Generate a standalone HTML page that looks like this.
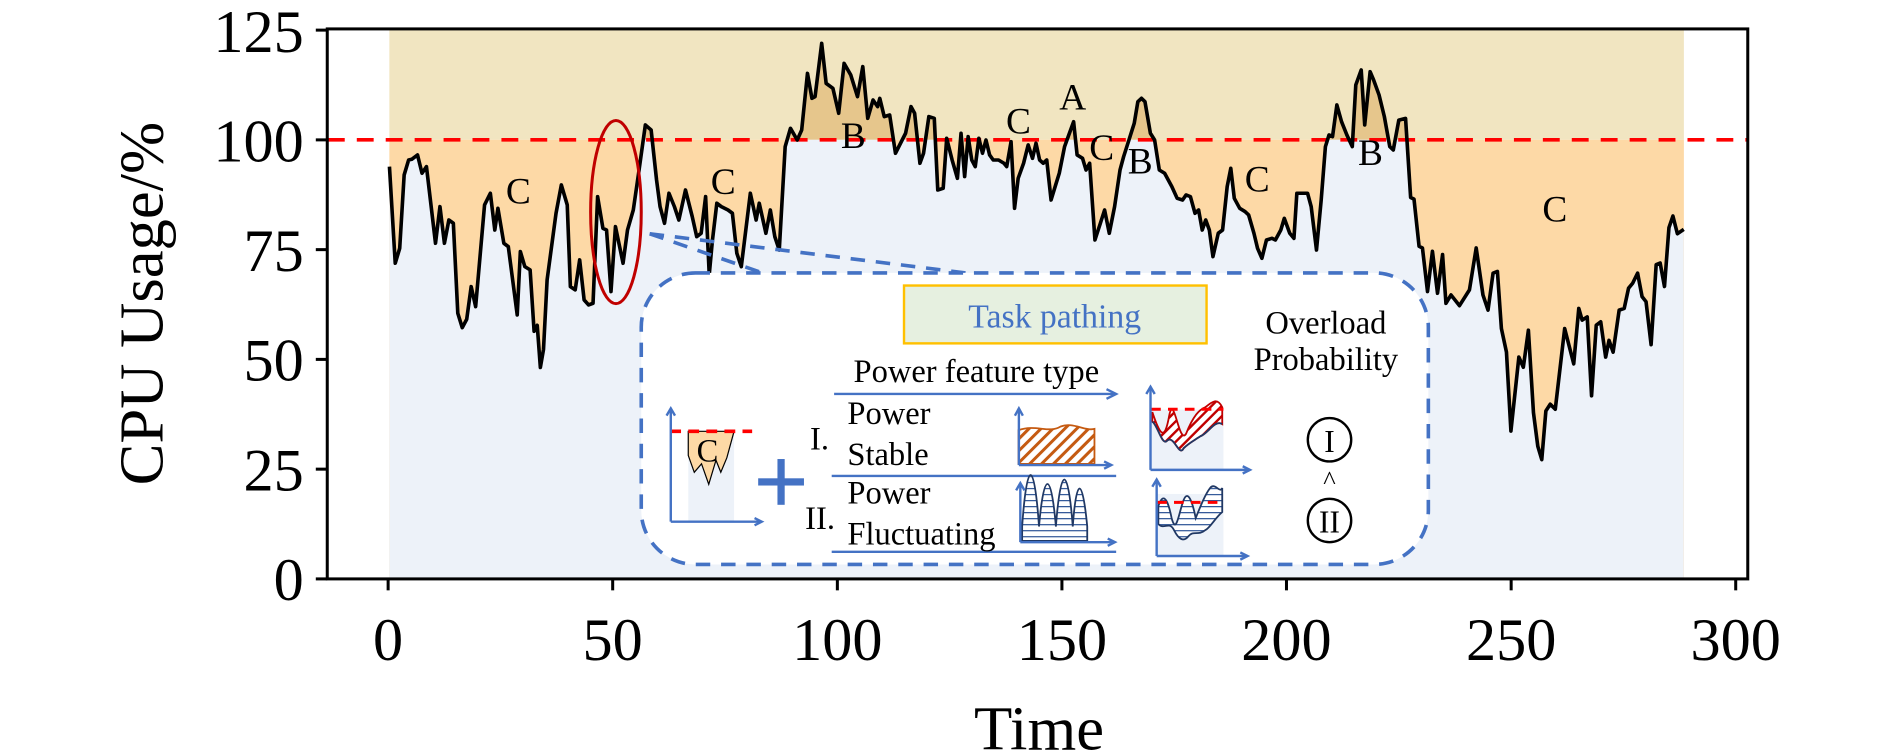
<!DOCTYPE html>
<html><head><meta charset="utf-8"><style>
html,body{margin:0;padding:0;background:#fff;}
svg{display:block;}
text{font-family:"Liberation Serif",serif;}
</style></head><body>
<svg width="1890" height="753" viewBox="0 0 1568 625" preserveAspectRatio="none" xmlns="http://www.w3.org/2000/svg">
<defs>
<clipPath id="above"><rect x="0" y="0" width="1568" height="116"/></clipPath>
<clipPath id="below"><rect x="0" y="116" width="1568" height="400"/></clipPath>
<pattern id="hatchO" width="7" height="7" patternUnits="userSpaceOnUse" patternTransform="rotate(45)"><rect width="7" height="7" fill="#fff"/><rect width="2.5" height="7" fill="#c55a11"/></pattern>
<pattern id="hatchR" width="6" height="6" patternUnits="userSpaceOnUse" patternTransform="rotate(45)"><rect width="6" height="6" fill="#fff"/><rect width="2" height="6" fill="#c00000"/></pattern>
<pattern id="hatchB" width="5" height="5" patternUnits="userSpaceOnUse"><rect width="5" height="5" fill="#fff"/><rect width="5" height="1" fill="#2f5597"/></pattern>
</defs>
<rect x="323" y="24" width="1074" height="92" fill="#f1e5c1"/>
<rect x="323" y="116" width="1074" height="364.5" fill="#fdd9a6"/>
<g clip-path="url(#above)"><path fill="#e6c68c" d="M323,480.5 L323.1,138.3 327.9,218.5 331.6,206.1 335.3,145.2 339.0,132.8 341.6,132.2 346.4,128.6 350.1,143.8 353.8,138.3 361.3,201.9 365.0,171.5 368.7,201.9 372.4,182.6 376.1,185.3 379.8,260.0 383.5,272 387.2,265 390.9,237.9 394.6,254.5 402.0,170.1 406.8,160.4 410.5,190.9 413.1,172.9 418.0,201.9 421.7,204.7 429.1,261.4 431.7,208.8 435.4,221.3 439.8,224.0 443.1,275 445.7,270 448.3,305 450.9,290 453.9,232.3 461.3,177.0 465.7,153.5 470.6,170.1 473.2,237.9 477.2,240.6 480.9,215.7 484.6,248.9 488.3,253.1 492.0,251.7 495.8,163.2 500.2,189.5 503.2,190.9 506.9,242.0 510.6,188.1 516.9,218.5 520.6,190.9 525.4,174.3 529.8,143.8 535.4,103.7 540.2,107.9 544.7,149.4 547.6,171.5 551.3,185.3 555.0,160.4 559.5,171.5 563.2,182.6 568.7,157.7 574.3,179.8 578.0,196.4 581.7,193.6 585.4,163.2 588.4,228 591.0,200 594.7,168.7 598.4,171.5 604.0,174.3 607.6,177.0 611.3,210.2 615.0,221.3 622.5,160.4 627.3,182.6 629.9,168.7 635.4,193.6 639.1,174.3 642.8,196.4 646.5,207.5 651.4,121.7 655.8,106.5 661.4,116.2 665.1,107.9 669.9,60.9 673.6,81.6 676.2,80.2 681.7,36.0 685.4,69.2 691.0,73.3 695.8,94.0 700.3,52.6 705.8,62.2 711.4,80.2 715.8,55.3 719.9,98.2 724.3,83.0 728.1,88.5 729.9,81.6 733.6,96.8 738.1,95.4 742.9,127.2 751.3,110.6 755.8,88.5 758.8,94.0 763.2,135.5 766.2,127.2 770.6,96.8 775.1,98.2 778.0,157.7 782.5,156.3 785.4,114.8 789.9,132.8 794.3,148.0 797.3,110.6 800.3,146.6 803.2,113.4 806.2,132.8 809.1,138.3 812.1,114.8 815.1,127.2 818.0,116.2 821.0,128.6 824.0,132.8 828.4,132.8 832.9,135.5 835.2,138.3 838.8,117.6 841.7,172.9 844.7,148.0 849.2,135.5 853.0,120.3 856.6,131.4 859.5,118.9 862.5,132.8 865.5,135.5 868.4,132.8 872.0,166.0 875.8,153.5 878.8,143.8 883.2,121.7 890.7,101.0 893.6,128.6 898.1,131.4 901.0,141.1 904.0,135.5 908.4,199.2 912.9,185.3 916.4,174.3 920.3,193.6 924.7,171.5 929.2,141.1 932.2,130.0 936.6,116.2 941.0,102.3 944.0,84.4 947.0,81.6 949.9,84.4 954.4,110.6 957.9,116.2 961.8,141.1 966.2,143.8 972.2,154.9 976.6,164.6 981.1,166.0 984.0,161.8 987.6,163.2 991.4,177.0 994.4,174.3 997.4,190.9 1000.3,182.6 1003.3,190.9 1006.3,213.0 1010.7,193.6 1014.3,190.9 1018.1,154.9 1021.1,139.7 1024.0,164.6 1028.5,172.9 1032.9,175.6 1035.9,178.4 1040.3,193.6 1043.3,206.1 1046.9,214.4 1050.7,199.2 1055.2,197.8 1058.1,199.2 1062.6,190.9 1065.5,181.2 1070.0,193.6 1073.5,197.8 1075.9,160.4 1081.8,160.4 1084.8,160.4 1087.8,171.5 1092.2,207.5 1096.1,166.0 1099.6,121.7 1102.6,112.0 1105.5,113.4 1109.1,87.1 1113.0,101.0 1117.4,112.0 1121.9,121.7 1124.8,70.5 1129.3,58.1 1132.2,103.7 1136.7,59.5 1139.6,66.4 1144.1,78.8 1148.5,96.8 1153.0,121.7 1155.9,124.5 1160.5,99.7 1166.1,98.3 1170.3,163.9 1173.1,165.3 1177.3,204.4 1180.1,205.8 1184.3,242 1188.4,208.6 1192.6,243.4 1196.8,211.3 1199.6,251.8 1203.8,244.8 1210.8,253.7 1219.1,240.6 1224.7,205.8 1230.3,244.8 1234.5,257.4 1238.7,226.7 1242.3,225.3 1245.6,272.7 1249.8,292.3 1253.5,357.8 1260.1,296.4 1263.8,304.8 1268,274.1 1272.2,342.5 1275.8,370.4 1279.1,381.5 1282.5,341.1 1286.1,335.5 1290.3,339.7 1298.1,272.7 1305.6,302 1309.8,256 1312.6,265.7 1316.8,263 1320.4,328.5 1324.3,269.9 1328,267.1 1332.1,296.4 1334.9,282.5 1338.3,292.3 1343.3,257.4 1347.5,256 1351.1,239.2 1354.5,235.1 1358.6,226.7 1362.3,246.2 1365.6,250.4 1369.8,286.1 1374,219.7 1377.3,218.3 1380.9,237.8 1384.6,189 1387.9,179.3 1391.6,194 1396.9,190.4 L1396.9,480.5 Z"/></g>
<g clip-path="url(#below)"><path fill="#edf2f9" d="M323,480.5 L323.1,138.3 327.9,218.5 331.6,206.1 335.3,145.2 339.0,132.8 341.6,132.2 346.4,128.6 350.1,143.8 353.8,138.3 361.3,201.9 365.0,171.5 368.7,201.9 372.4,182.6 376.1,185.3 379.8,260.0 383.5,272 387.2,265 390.9,237.9 394.6,254.5 402.0,170.1 406.8,160.4 410.5,190.9 413.1,172.9 418.0,201.9 421.7,204.7 429.1,261.4 431.7,208.8 435.4,221.3 439.8,224.0 443.1,275 445.7,270 448.3,305 450.9,290 453.9,232.3 461.3,177.0 465.7,153.5 470.6,170.1 473.2,237.9 477.2,240.6 480.9,215.7 484.6,248.9 488.3,253.1 492.0,251.7 495.8,163.2 500.2,189.5 503.2,190.9 506.9,242.0 510.6,188.1 516.9,218.5 520.6,190.9 525.4,174.3 529.8,143.8 535.4,103.7 540.2,107.9 544.7,149.4 547.6,171.5 551.3,185.3 555.0,160.4 559.5,171.5 563.2,182.6 568.7,157.7 574.3,179.8 578.0,196.4 581.7,193.6 585.4,163.2 588.4,228 591.0,200 594.7,168.7 598.4,171.5 604.0,174.3 607.6,177.0 611.3,210.2 615.0,221.3 622.5,160.4 627.3,182.6 629.9,168.7 635.4,193.6 639.1,174.3 642.8,196.4 646.5,207.5 651.4,121.7 655.8,106.5 661.4,116.2 665.1,107.9 669.9,60.9 673.6,81.6 676.2,80.2 681.7,36.0 685.4,69.2 691.0,73.3 695.8,94.0 700.3,52.6 705.8,62.2 711.4,80.2 715.8,55.3 719.9,98.2 724.3,83.0 728.1,88.5 729.9,81.6 733.6,96.8 738.1,95.4 742.9,127.2 751.3,110.6 755.8,88.5 758.8,94.0 763.2,135.5 766.2,127.2 770.6,96.8 775.1,98.2 778.0,157.7 782.5,156.3 785.4,114.8 789.9,132.8 794.3,148.0 797.3,110.6 800.3,146.6 803.2,113.4 806.2,132.8 809.1,138.3 812.1,114.8 815.1,127.2 818.0,116.2 821.0,128.6 824.0,132.8 828.4,132.8 832.9,135.5 835.2,138.3 838.8,117.6 841.7,172.9 844.7,148.0 849.2,135.5 853.0,120.3 856.6,131.4 859.5,118.9 862.5,132.8 865.5,135.5 868.4,132.8 872.0,166.0 875.8,153.5 878.8,143.8 883.2,121.7 890.7,101.0 893.6,128.6 898.1,131.4 901.0,141.1 904.0,135.5 908.4,199.2 912.9,185.3 916.4,174.3 920.3,193.6 924.7,171.5 929.2,141.1 932.2,130.0 936.6,116.2 941.0,102.3 944.0,84.4 947.0,81.6 949.9,84.4 954.4,110.6 957.9,116.2 961.8,141.1 966.2,143.8 972.2,154.9 976.6,164.6 981.1,166.0 984.0,161.8 987.6,163.2 991.4,177.0 994.4,174.3 997.4,190.9 1000.3,182.6 1003.3,190.9 1006.3,213.0 1010.7,193.6 1014.3,190.9 1018.1,154.9 1021.1,139.7 1024.0,164.6 1028.5,172.9 1032.9,175.6 1035.9,178.4 1040.3,193.6 1043.3,206.1 1046.9,214.4 1050.7,199.2 1055.2,197.8 1058.1,199.2 1062.6,190.9 1065.5,181.2 1070.0,193.6 1073.5,197.8 1075.9,160.4 1081.8,160.4 1084.8,160.4 1087.8,171.5 1092.2,207.5 1096.1,166.0 1099.6,121.7 1102.6,112.0 1105.5,113.4 1109.1,87.1 1113.0,101.0 1117.4,112.0 1121.9,121.7 1124.8,70.5 1129.3,58.1 1132.2,103.7 1136.7,59.5 1139.6,66.4 1144.1,78.8 1148.5,96.8 1153.0,121.7 1155.9,124.5 1160.5,99.7 1166.1,98.3 1170.3,163.9 1173.1,165.3 1177.3,204.4 1180.1,205.8 1184.3,242 1188.4,208.6 1192.6,243.4 1196.8,211.3 1199.6,251.8 1203.8,244.8 1210.8,253.7 1219.1,240.6 1224.7,205.8 1230.3,244.8 1234.5,257.4 1238.7,226.7 1242.3,225.3 1245.6,272.7 1249.8,292.3 1253.5,357.8 1260.1,296.4 1263.8,304.8 1268,274.1 1272.2,342.5 1275.8,370.4 1279.1,381.5 1282.5,341.1 1286.1,335.5 1290.3,339.7 1298.1,272.7 1305.6,302 1309.8,256 1312.6,265.7 1316.8,263 1320.4,328.5 1324.3,269.9 1328,267.1 1332.1,296.4 1334.9,282.5 1338.3,292.3 1343.3,257.4 1347.5,256 1351.1,239.2 1354.5,235.1 1358.6,226.7 1362.3,246.2 1365.6,250.4 1369.8,286.1 1374,219.7 1377.3,218.3 1380.9,237.8 1384.6,189 1387.9,179.3 1391.6,194 1396.9,190.4 L1396.9,480.5 Z"/></g>
<line x1="272" y1="116" x2="1450" y2="116" stroke="#ff0000" stroke-width="3" stroke-dasharray="14,10"/>
<polyline fill="none" stroke="#000" stroke-width="3" stroke-linejoin="round" points="323.1,138.3 327.9,218.5 331.6,206.1 335.3,145.2 339.0,132.8 341.6,132.2 346.4,128.6 350.1,143.8 353.8,138.3 361.3,201.9 365.0,171.5 368.7,201.9 372.4,182.6 376.1,185.3 379.8,260.0 383.5,272 387.2,265 390.9,237.9 394.6,254.5 402.0,170.1 406.8,160.4 410.5,190.9 413.1,172.9 418.0,201.9 421.7,204.7 429.1,261.4 431.7,208.8 435.4,221.3 439.8,224.0 443.1,275 445.7,270 448.3,305 450.9,290 453.9,232.3 461.3,177.0 465.7,153.5 470.6,170.1 473.2,237.9 477.2,240.6 480.9,215.7 484.6,248.9 488.3,253.1 492.0,251.7 495.8,163.2 500.2,189.5 503.2,190.9 506.9,242.0 510.6,188.1 516.9,218.5 520.6,190.9 525.4,174.3 529.8,143.8 535.4,103.7 540.2,107.9 544.7,149.4 547.6,171.5 551.3,185.3 555.0,160.4 559.5,171.5 563.2,182.6 568.7,157.7 574.3,179.8 578.0,196.4 581.7,193.6 585.4,163.2 588.4,228 591.0,200 594.7,168.7 598.4,171.5 604.0,174.3 607.6,177.0 611.3,210.2 615.0,221.3 622.5,160.4 627.3,182.6 629.9,168.7 635.4,193.6 639.1,174.3 642.8,196.4 646.5,207.5 651.4,121.7 655.8,106.5 661.4,116.2 665.1,107.9 669.9,60.9 673.6,81.6 676.2,80.2 681.7,36.0 685.4,69.2 691.0,73.3 695.8,94.0 700.3,52.6 705.8,62.2 711.4,80.2 715.8,55.3 719.9,98.2 724.3,83.0 728.1,88.5 729.9,81.6 733.6,96.8 738.1,95.4 742.9,127.2 751.3,110.6 755.8,88.5 758.8,94.0 763.2,135.5 766.2,127.2 770.6,96.8 775.1,98.2 778.0,157.7 782.5,156.3 785.4,114.8 789.9,132.8 794.3,148.0 797.3,110.6 800.3,146.6 803.2,113.4 806.2,132.8 809.1,138.3 812.1,114.8 815.1,127.2 818.0,116.2 821.0,128.6 824.0,132.8 828.4,132.8 832.9,135.5 835.2,138.3 838.8,117.6 841.7,172.9 844.7,148.0 849.2,135.5 853.0,120.3 856.6,131.4 859.5,118.9 862.5,132.8 865.5,135.5 868.4,132.8 872.0,166.0 875.8,153.5 878.8,143.8 883.2,121.7 890.7,101.0 893.6,128.6 898.1,131.4 901.0,141.1 904.0,135.5 908.4,199.2 912.9,185.3 916.4,174.3 920.3,193.6 924.7,171.5 929.2,141.1 932.2,130.0 936.6,116.2 941.0,102.3 944.0,84.4 947.0,81.6 949.9,84.4 954.4,110.6 957.9,116.2 961.8,141.1 966.2,143.8 972.2,154.9 976.6,164.6 981.1,166.0 984.0,161.8 987.6,163.2 991.4,177.0 994.4,174.3 997.4,190.9 1000.3,182.6 1003.3,190.9 1006.3,213.0 1010.7,193.6 1014.3,190.9 1018.1,154.9 1021.1,139.7 1024.0,164.6 1028.5,172.9 1032.9,175.6 1035.9,178.4 1040.3,193.6 1043.3,206.1 1046.9,214.4 1050.7,199.2 1055.2,197.8 1058.1,199.2 1062.6,190.9 1065.5,181.2 1070.0,193.6 1073.5,197.8 1075.9,160.4 1081.8,160.4 1084.8,160.4 1087.8,171.5 1092.2,207.5 1096.1,166.0 1099.6,121.7 1102.6,112.0 1105.5,113.4 1109.1,87.1 1113.0,101.0 1117.4,112.0 1121.9,121.7 1124.8,70.5 1129.3,58.1 1132.2,103.7 1136.7,59.5 1139.6,66.4 1144.1,78.8 1148.5,96.8 1153.0,121.7 1155.9,124.5 1160.5,99.7 1166.1,98.3 1170.3,163.9 1173.1,165.3 1177.3,204.4 1180.1,205.8 1184.3,242 1188.4,208.6 1192.6,243.4 1196.8,211.3 1199.6,251.8 1203.8,244.8 1210.8,253.7 1219.1,240.6 1224.7,205.8 1230.3,244.8 1234.5,257.4 1238.7,226.7 1242.3,225.3 1245.6,272.7 1249.8,292.3 1253.5,357.8 1260.1,296.4 1263.8,304.8 1268,274.1 1272.2,342.5 1275.8,370.4 1279.1,381.5 1282.5,341.1 1286.1,335.5 1290.3,339.7 1298.1,272.7 1305.6,302 1309.8,256 1312.6,265.7 1316.8,263 1320.4,328.5 1324.3,269.9 1328,267.1 1332.1,296.4 1334.9,282.5 1338.3,292.3 1343.3,257.4 1347.5,256 1351.1,239.2 1354.5,235.1 1358.6,226.7 1362.3,246.2 1365.6,250.4 1369.8,286.1 1374,219.7 1377.3,218.3 1380.9,237.8 1384.6,189 1387.9,179.3 1391.6,194 1396.9,190.4"/>
<g font-size="31" text-anchor="middle" fill="#000">
<text x="430" y="169">C</text><text x="600" y="161">C</text><text x="708" y="123">B</text>
<text x="845" y="111">C</text><text x="890" y="91">A</text><text x="914" y="133">C</text>
<text x="946" y="144">B</text><text x="1043" y="159">C</text><text x="1137" y="137">B</text>
<text x="1290" y="184">C</text>
</g>
<ellipse cx="511" cy="176" rx="21" ry="76" fill="none" stroke="#c00000" stroke-width="2.5"/>
<g stroke="#4472c4" stroke-width="3" stroke-dasharray="12,9" fill="none">
<line x1="539" y1="194" x2="634" y2="227"/>
<line x1="539" y1="194" x2="805" y2="227"/>
</g>
<rect x="532" y="226.5" width="653" height="242" rx="45" ry="45" fill="#fff" stroke="#4472c4" stroke-width="3" stroke-dasharray="12,9"/>
<rect x="750" y="237" width="251" height="48" fill="#e6f0e0" stroke="#ffc000" stroke-width="2"/>
<text x="875" y="272" font-size="28" fill="#4472c4" text-anchor="middle">Task pathing</text>
<g font-size="27" text-anchor="middle" fill="#000">
<text x="1100" y="277">Overload</text><text x="1100" y="307">Probability</text>
</g>
<text x="810" y="317" font-size="27" text-anchor="middle">Power feature type</text>
<g stroke="#4472c4" stroke-width="2" fill="none">
<line x1="692" y1="327" x2="926" y2="327"/><polyline points="918,323 926,327 918,331"/>
<line x1="690" y1="395" x2="926" y2="395"/>
<line x1="690" y1="458" x2="926" y2="458"/>
</g>
<g font-size="27" fill="#000">
<text x="672" y="373">I.</text><text x="703" y="352">Power</text><text x="703" y="386">Stable</text>
<text x="668" y="439">II.</text><text x="703" y="418">Power</text><text x="703" y="452">Fluctuating</text>
</g>
<rect x="571" y="358" width="38" height="75" fill="#edf2f9"/>
<path d="M571,358 L609,358 L603,380 598,392 594,382 588,402 582,385 576,392 571,378 Z" fill="#fdd9a6" stroke="#000" stroke-width="1"/>
<line x1="556" y1="358" x2="624" y2="358" stroke="#ff0000" stroke-width="3" stroke-dasharray="9,6"/>
<text x="587" y="383" font-size="27" text-anchor="middle">C</text>
<g stroke="#4472c4" stroke-width="2" fill="none">
<line x1="556.5" y1="339" x2="556.5" y2="433"/><line x1="556.5" y1="433" x2="632" y2="433"/>
<polyline points="553,345 556.5,339 560,345"/><polyline points="626,430 632,433 626,436"/>
</g>
<rect x="629" y="397" width="38" height="6" fill="#4472c4"/>
<rect x="645" y="381" width="6" height="38" fill="#4472c4"/>
<path d="M845,357 C860,352 870,360 880,354 C890,350 900,358 908,356 L908,385 L845,385 Z" fill="url(#hatchO)" stroke="#c55a11" stroke-width="1.5"/>
<path d="M848,437 C852,380 858,380 862,437 C866,390 872,390 876,437 C880,385 886,385 890,437 C893,395 898,395 902,437 L902,449 L848,449 Z" fill="url(#hatchB)" stroke="#203864" stroke-width="1.5"/>
<g stroke="#4472c4" stroke-width="2" fill="none">
<line x1="845.3" y1="339" x2="845.3" y2="386"/><line x1="845.3" y1="386" x2="922" y2="386"/>
<polyline points="842,345 845.3,339 848.6,345"/><polyline points="916,383 922,386 916,389"/>
<line x1="846.5" y1="401" x2="846.5" y2="450"/><line x1="846.5" y1="450" x2="925" y2="450"/>
<polyline points="843,407 846.5,401 850,407"/><polyline points="919,447 925,450 919,453"/>
</g>
<rect x="955" y="340" width="60" height="50" fill="#edf2f9"/>
<path d="M956,342 C962,360 966,368 970,345 C974,325 978,370 984,360 C990,345 995,340 1000,338 C1006,333 1010,330 1014,338 L1014,352 C1008,348 1002,360 996,362 C990,366 986,368 982,372 C978,380 974,360 968,366 C964,370 960,352 956,350 Z" fill="url(#hatchR)" stroke="#c00000" stroke-width="1.5"/>
<path d="M956,350 C960,352 964,370 968,366 C974,360 978,380 982,372 C986,368 990,366 996,362 C1002,360 1008,348 1014,352" fill="none" stroke="#203864" stroke-width="1.5"/>
<line x1="955" y1="339.7" x2="1015" y2="339.7" stroke="#ff0000" stroke-width="2.5" stroke-dasharray="8,6"/>
<rect x="960" y="410" width="55" height="52" fill="#edf2f9"/>
<path d="M961,420 C966,405 970,420 972,430 C976,445 978,425 982,415 C986,405 990,420 992,430 C996,420 1000,410 1004,405 C1008,400 1012,410 1014,405 L1014,425 C1008,430 1004,438 1000,440 C994,445 990,440 986,445 C982,450 978,448 974,440 C970,432 966,440 961,435 Z" fill="url(#hatchB)" stroke="#203864" stroke-width="1.5"/>
<line x1="960" y1="417" x2="1015" y2="417" stroke="#ff0000" stroke-width="2.5" stroke-dasharray="8,6"/>
<g stroke="#4472c4" stroke-width="2" fill="none">
<line x1="954.5" y1="321" x2="954.5" y2="390"/><line x1="954.5" y1="390" x2="1037" y2="390"/>
<polyline points="951,327 954.5,321 958,327"/><polyline points="1031,387 1037,390 1031,393"/>
<line x1="959.6" y1="398" x2="959.6" y2="461.5"/><line x1="959.6" y1="461.5" x2="1035" y2="461.5"/>
<polyline points="956,404 959.6,398 963,404"/><polyline points="1029,458.5 1035,461.5 1029,464.5"/>
</g>
<circle cx="1103" cy="365" r="18" fill="none" stroke="#000" stroke-width="2"/>
<text x="1103" y="375" font-size="26" text-anchor="middle">I</text>
<text x="1103" y="406" font-size="22" text-anchor="middle">^</text>
<circle cx="1103" cy="432" r="18" fill="none" stroke="#000" stroke-width="2"/>
<text x="1103" y="442" font-size="26" text-anchor="middle">II</text>
<rect x="271.5" y="24" width="1178.5" height="456.5" fill="none" stroke="#000" stroke-width="2.5"/>
<g stroke="#000" stroke-width="2.5">
<line x1="262" y1="480.5" x2="271.5" y2="480.5"/><line x1="262" y1="389.4" x2="271.5" y2="389.4"/>
<line x1="262" y1="298.3" x2="271.5" y2="298.3"/><line x1="262" y1="207.2" x2="271.5" y2="207.2"/>
<line x1="262" y1="116.1" x2="271.5" y2="116.1"/><line x1="262" y1="25" x2="271.5" y2="25"/>
<line x1="322" y1="480.5" x2="322" y2="490"/><line x1="508.3" y1="480.5" x2="508.3" y2="490"/>
<line x1="694.7" y1="480.5" x2="694.7" y2="490"/><line x1="881" y1="480.5" x2="881" y2="490"/>
<line x1="1067.3" y1="480.5" x2="1067.3" y2="490"/><line x1="1253.7" y1="480.5" x2="1253.7" y2="490"/>
<line x1="1440" y1="480.5" x2="1440" y2="490"/>
</g>
<g font-size="50" text-anchor="end">
<text x="252" y="498">0</text><text x="252" y="407">25</text><text x="252" y="316">50</text>
<text x="252" y="225">75</text><text x="252" y="134">100</text><text x="252" y="43">125</text>
</g>
<g font-size="50" text-anchor="middle">
<text x="322" y="548">0</text><text x="508.3" y="548">50</text><text x="694.7" y="548">100</text>
<text x="881" y="548">150</text><text x="1067.3" y="548">200</text><text x="1253.7" y="548">250</text>
<text x="1440" y="548">300</text>
</g>
<text x="862" y="622" font-size="52" text-anchor="middle">Time</text>
<text transform="translate(135,252) rotate(-90)" font-size="52" text-anchor="middle">CPU Usage/%</text>
</svg>
</body></html>
